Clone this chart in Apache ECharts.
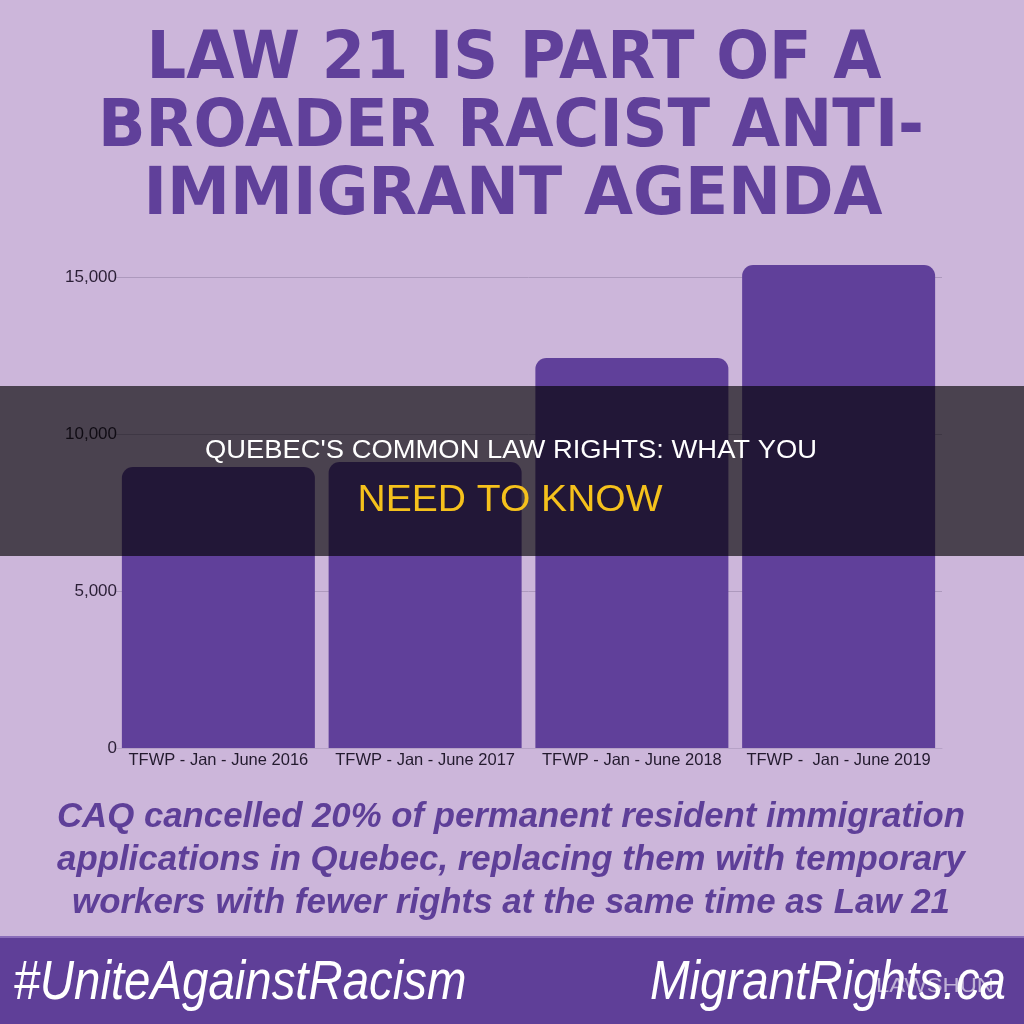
<!DOCTYPE html>
<html>
<head>
<meta charset="utf-8">
<script src="https://cdn.jsdelivr.net/npm/echarts@6/dist/echarts.min.js"></script>
<style>
  html, body { margin: 0; padding: 0; background: #ccb6da; }
  #chart { width: 1024px; height: 1024px; }
</style>
</head>
<body>
<div id="chart"></div>
<script>
// data
var categories = ['TFWP - Jan - June 2016', 'TFWP - Jan - June 2017', 'TFWP - Jan - June 2018', 'TFWP -  Jan - June 2019'];
var workers = [8950, 9110, 12420, 15380];
var yTicks = [0, 5000, 10000, 15000];

var titleLines = ['LAW 21 IS PART OF A', 'BROADER RACIST ANTI-', 'IMMIGRANT AGENDA'];
var captionLines = [
  'CAQ cancelled 20% of permanent resident immigration',
  'applications in Quebec, replacing them with temporary',
  'workers with fewer rights at the same time as Law 21'
];

var purple = '#60409a';
var bg = '#ccb6da';

// measure text so it can be stretched to the width seen in the picture
var measureCtx = document.createElement('canvas').getContext('2d');
function fitText(text, cx, cy, size, font, color, targetW, z) {
  measureCtx.font = font;
  var w = measureCtx.measureText(text).width;
  return {
    type: 'text',
    x: cx,
    y: cy + size * 0.1, // cap centre sits a little above the em centre
    scaleX: targetW / w,
    z: z || 10,
    style: {
      text: text,
      font: font,
      fill: color,
      align: 'center',
      verticalAlign: 'middle'
    }
  };
}

var myChart = echarts.init(document.getElementById('chart'));
var option;

var tSize = 66, cSize = 35, bSize = 56;
var titleFont = 'bold ' + tSize + 'px "DejaVu Sans Condensed", "DejaVu Sans"';
var capFont = 'italic bold ' + cSize + 'px "Liberation Sans", Arial';
var bannerFont = 'italic ' + bSize + 'px "Liberation Sans", Arial';

var graphics = [
  fitText(titleLines[0], 514, 54, tSize, titleFont, purple, 735),
  fitText(titleLines[1], 511, 122, tSize, titleFont, purple, 826),
  fitText(titleLines[2], 513, 190, tSize, titleFont, purple, 739),

  fitText(captionLines[0], 511, 814, cSize, capFont, '#5e3f98', 908),
  fitText(captionLines[1], 511, 857, cSize, capFont, '#5e3f98', 908),
  fitText(captionLines[2], 511, 900, cSize, capFont, '#5e3f98', 878),

  //底部横幅
  { type: 'rect', shape: { x: 0, y: 937, width: 1024, height: 87 }, style: { fill: '#5f3f98' }, z: 5 },
  { type: 'rect', shape: { x: 0, y: 936, width: 1024, height: 2 }, style: { fill: '#8a6dba' }, z: 5 },
  fitText('#UniteAgainstRacism', 240, 978, bSize, bannerFont, '#ffffff', 453),
  fitText('MigrantRights.ca', 828, 978, bSize, bannerFont, '#ffffff', 356),
  fitText('LAWSHUN', 935, 984, 20, '20px "Liberation Sans"', 'rgba(255,255,255,0.6)', 118, 12),

  // dark band over the middle
  { type: 'rect', shape: { x: 0, y: 386, width: 1024, height: 170 }, style: { fill: 'rgba(0,0,0,0.64)' }, z: 100 },
  fitText("QUEBEC'S COMMON LAW RIGHTS: WHAT YOU", 511, 449, 25, '25px "Liberation Sans", Arial', '#ffffff', 612, 101),
  fitText('NEED TO KNOW', 510, 497, 37, '37px "Liberation Sans", Arial', '#f5c11c', 305, 101)
];

option = {
  backgroundColor: bg,
  animation: false,
  grid: {
    left: 115,
    right: 82,
    top: 277,
    bottom: 276
  },
  xAxis: {
    type: 'category',
    data: categories,
    axisTick: { show: false },
    axisLine: { lineStyle: { color: '#b6a2c6' } },
    axisLabel: {
      interval: 0,
      margin: 4,
      color: '#231a2e',
      fontSize: 16.5,
      fontFamily: '"Liberation Sans", Arial'
    }
  },
  yAxis: {
    type: 'value',
    min: yTicks[0],
    max: yTicks[yTicks.length - 1],
    interval: 5000,
    axisLine: { show: false },
    axisTick: { show: false },
    axisLabel: {
      margin: -2,
      color: '#2b1f36',
      fontSize: 17,
      fontFamily: '"Liberation Sans", Arial',
      formatter: function (v) { return v.toLocaleString('en-US'); }
    },
    splitLine: { lineStyle: { color: '#ad99bd', width: 1 } }
  },
  graphic: graphics,
  series: [
    {
      type: 'bar',
      data: workers,
      barWidth: 193,
      clip: false,
      itemStyle: {
        color: purple,
        borderRadius: [11, 11, 0, 0]
      }
    }
  ]
};

option && myChart.setOption(option);
</script>
</body>
</html>
